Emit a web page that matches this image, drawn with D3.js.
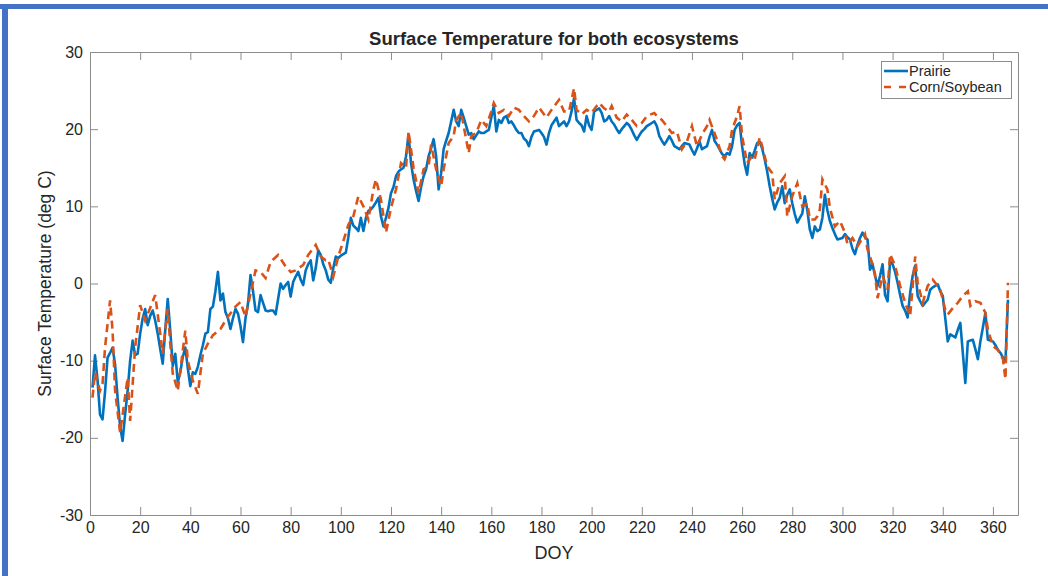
<!DOCTYPE html>
<html>
<head>
<meta charset="utf-8">
<script src="https://cdn.jsdelivr.net/npm/d3@7/dist/d3.min.js"></script>
<style>
  html, body { margin: 0; padding: 0; background: #ffffff; }
  svg { display: block; }
  text { font-family: "Liberation Sans", Arial, Helvetica, sans-serif; fill: #262626; }
</style>
</head>
<body>
<svg id="chart" width="1048" height="576"></svg>
<script>
// Daily surface temperature (deg C), DOY 1..366
const prairieTemp = [
  -13.5, -9.3, -12.5, -17.0, -17.6, -14.0, -9.6, -9.0, -8.3, -10.5,
  -14.8, -18.5, -20.4, -17.0, -13.9, -10.0, -7.4, -9.3, -9.1, -6.5,
  -4.5, -3.3, -5.4, -4.2, -3.5, -4.8, -6.5, -8.5, -10.4, -6.0,
  -2.0, -6.1, -10.7, -9.1, -12.8, -11.5, -9.5, -8.3, -11.0, -13.3,
  -11.5, -11.7, -10.8, -9.3, -8.0, -6.5, -6.3, -3.3, -3.0, -1.0,
  1.5, -2.2, -1.3, -3.7, -4.5, -5.9, -4.5, -3.3, -3.9, -5.5,
  -7.6, -4.5, -2.6, 1.1, -1.0, -3.5, -3.7, -1.5, -2.5, -3.5,
  -3.6, -3.5, -3.5, -4.0, -2.0, 0.0, -0.7, -0.2, 0.2, -1.7,
  0.2, 0.9, 1.5, 0.5, -0.2, 1.7, 2.5, 3.0, 0.4, 2.0,
  4.3, 3.7, 2.5, 1.7, 0.5, 0.1, 2.0, 3.5, 3.3, 3.6,
  3.8, 4.0, 6.0, 8.5, 7.5, 7.2, 6.8, 8.5, 6.8, 8.5,
  9.4, 9.6, 10.0, 10.5, 11.1, 8.7, 7.4, 8.5, 9.8, 11.7,
  12.5, 13.9, 14.5, 14.8, 15.0, 16.5, 19.3, 15.6, 13.5, 12.0,
  10.7, 12.5, 13.9, 14.8, 16.5, 17.5, 18.7, 16.5, 12.2, 14.3,
  17.4, 18.5, 19.5, 21.0, 22.5, 21.0, 20.4, 22.5, 21.5, 20.4,
  19.3, 19.5, 18.7, 19.2, 19.7, 19.5, 19.5, 19.7, 19.9, 21.5,
  23.0, 19.7, 21.2, 20.8, 21.5, 21.7, 20.8, 21.0, 20.5, 19.9,
  19.5, 19.5, 18.8, 18.5, 17.8, 19.0, 19.7, 19.8, 19.9, 19.5,
  19.0, 18.0, 19.5, 20.5, 21.0, 21.5, 20.4, 20.7, 21.0, 20.4,
  21.0, 22.3, 24.0, 21.2, 20.8, 20.5, 19.7, 21.7, 20.5, 19.9,
  22.3, 22.5, 22.7, 22.1, 21.0, 21.2, 21.7, 21.0, 20.6, 20.0,
  19.5, 20.0, 20.4, 20.8, 20.5, 19.9, 19.2, 18.6, 19.2, 19.7,
  20.0, 20.4, 20.6, 20.8, 21.0, 20.4, 19.1, 18.5, 18.0, 18.5,
  19.1, 18.5, 17.8, 17.6, 17.4, 17.8, 18.2, 18.1, 18.0, 17.3,
  16.7, 17.5, 18.4, 17.4, 17.6, 17.8, 19.0, 19.9, 18.5, 18.0,
  17.4, 16.8, 16.5, 16.9, 16.7, 17.8, 19.9, 20.5, 20.8, 17.8,
  15.5, 14.1, 16.9, 16.3, 17.2, 18.2, 18.4, 17.5, 16.1, 14.5,
  12.6, 11.0, 9.6, 10.5, 11.1, 12.6, 10.4, 11.5, 12.2, 10.4,
  9.0, 7.9, 8.5, 9.1, 11.3, 9.5, 7.0, 5.9, 7.4, 6.8,
  7.0, 8.5, 11.5, 9.5, 8.1, 7.2, 6.4, 5.7, 5.8, 5.9,
  6.4, 6.0, 5.7, 4.5, 3.8, 5.0, 5.9, 6.6, 6.0, 5.7,
  1.8, 2.5, 1.0, -0.3, 1.0, 2.5, -1.5, -2.3, 2.9, 2.5,
  1.5, 0.1, -1.5, -2.9, -3.5, -4.4, -1.2, 1.0, 2.3, -1.6,
  -2.3, -2.9, -2.5, -2.1, -0.8, -0.5, -0.3, -0.1, -1.0, -1.6,
  -4.5, -7.5, -6.6, -6.8, -7.0, -6.0, -5.1, -9.0, -12.9, -7.5,
  -7.4, -7.3, -8.5, -9.8, -7.5, -5.7, -3.8, -7.3, -7.4, -7.5,
  -8.0, -8.6, -9.0, -9.6, -10.1, -2.1
];
const prairieDoy = d3.range(1, prairieTemp.length + 1);

// Corn/Soybean record, sampled days
const cornDoy = [
  1, 2, 4, 5, 6, 8, 9, 10, 12, 13, 15, 16, 18, 20, 22, 26, 28, 29, 31, 32,
  33, 35, 38, 39, 41, 43, 45, 47, 49, 52, 55, 58, 60, 62, 64, 66, 68, 70, 72, 75,
  78, 80, 82, 85, 87, 90, 92, 94, 95, 97, 99, 101, 103, 105, 107, 109, 111, 113, 114, 116,
  118, 120, 122, 124, 126, 127, 129, 131, 133, 135, 136, 138, 140, 141, 143, 145, 146, 148, 149, 151,
  152, 154, 156, 158, 160, 161, 163, 165, 167, 169, 171, 173, 175, 177, 179, 182, 184, 187, 189, 191,
  193, 194, 196, 198, 200, 202, 203, 205, 207, 208, 210, 212, 214, 216, 218, 220, 222, 225, 226, 228,
  230, 232, 234, 236, 238, 240, 242, 244, 246, 247, 250, 252, 253, 255, 256, 258, 259, 260, 262, 264,
  265, 267, 268, 270, 272, 273, 275, 277, 278, 280, 282, 284, 286, 287, 289, 290, 291, 292, 294, 295,
  297, 299, 301, 302, 304, 306, 308, 309, 310, 312, 313, 314, 316, 318, 319, 321, 323, 325, 327, 329,
  330, 332, 334, 336, 337, 339, 341, 342, 344, 346, 348, 350, 351, 353, 355, 357, 358, 360, 362, 364,
  365, 366
];
const cornTemp = [
  -14.8, -11.5, -13.9, -13.0, -8.3, -2.2, -6.1, -13.9, -19.3, -17.0, -12.2, -17.8, -8.3, -2.8, -4.8, -1.5, -6.5, -9.1, -3.3, -7.8,
  -11.7, -13.9, -6.1, -10.0, -12.6, -14.3, -9.1, -7.8, -6.7, -5.9, -4.3, -3.0, -2.4, -4.3, -1.3, 1.7, 1.5, 0.7, 2.8, 3.7,
  2.2, 1.5, 1.7, 2.4, 3.7, 5.0, 3.5, 3.0, 3.1, 0.9, 3.5, 5.5, 7.6, 8.7, 11.3, 10.0, 8.3, 12.2, 13.5, 10.9,
  6.6, 9.8, 12.2, 15.6, 15.0, 19.7, 15.0, 11.7, 14.8, 15.2, 18.0, 14.8, 12.6, 14.8, 18.2, 19.1, 21.2, 22.1, 20.4, 16.9,
  19.1, 19.5, 21.2, 20.4, 22.3, 23.4, 22.1, 22.5, 21.7, 22.8, 22.5, 21.7, 21.0, 21.7, 22.8, 21.5, 22.5, 23.8, 22.3, 22.3,
  25.3, 22.5, 21.9, 22.5, 22.1, 23.0, 23.4, 22.7, 22.3, 23.0, 21.5, 21.0, 21.9, 21.2, 20.4, 20.8, 21.7, 22.1, 21.7, 21.2,
  20.4, 19.5, 19.7, 17.4, 18.4, 20.4, 17.8, 19.3, 20.4, 21.2, 18.6, 16.5, 16.1, 17.8, 19.9, 21.7, 23.0, 19.1, 15.6, 16.5,
  16.1, 18.9, 17.8, 15.2, 14.3, 10.9, 13.0, 13.9, 8.7, 11.3, 13.0, 10.0, 10.4, 8.3, 8.3, 8.7, 9.6, 13.5, 12.2, 9.8,
  7.4, 8.1, 6.6, 5.1, 5.9, 4.8, 5.9, 6.4, 4.4, 2.5, 1.2, -1.9, 1.0, -0.8, 3.8, 2.3, -0.3, -2.5, -4.2, 3.5,
  0.1, -2.5, -0.3, 0.5, 0.1, -0.8, -3.4, -4.0, -3.2, -2.5, -1.6, -1.0, -2.9, -2.3, -2.5, -3.8, -6.0, -8.1, -8.6, -9.8,
  -12.4, 0.1
];

const xTicks = d3.range(0, 361, 20);
const yTicks = d3.range(-30, 31, 10);
const seriesNames = ["Prairie", "Corn/Soybean"];
const seriesColors = ["#0072BD", "#D95319"];

const svg = d3.select("#chart");
const W = 1048, H = 576;
const box = { left: 90, right: 1018, top: 52, bottom: 515 };

// Slide frame
svg.append("rect").attr("x", 0).attr("y", 0).attr("width", W).attr("height", H).attr("fill", "#ffffff");
svg.append("rect").attr("x", 0).attr("y", 4).attr("width", W).attr("height", 5).attr("fill", "#4472C4");
svg.append("rect").attr("x", 2).attr("y", 4).attr("width", 6).attr("height", H - 4).attr("fill", "#4472C4");

const x = d3.scaleLinear().domain([0, 370]).range([box.left, box.right]);
const y = d3.scaleLinear().domain([-30, 30]).range([box.bottom, box.top]);

const axisColor = "#8c8c8c";
const tickLen = 8;
const plainNum = d => String(d);

function styleAxis(g) {
  g.selectAll(".domain").attr("stroke", axisColor).attr("stroke-width", 1);
  g.selectAll(".tick line").attr("stroke", axisColor).attr("stroke-width", 1);
  g.selectAll(".tick text").attr("fill", "#262626").style("font-size", "16px")
    .style("font-family", "'Liberation Sans', Arial, sans-serif");
}

svg.append("g").attr("transform", `translate(0,${box.bottom})`)
  .call(d3.axisBottom(x).tickValues(xTicks).tickFormat(plainNum).tickSizeInner(-tickLen).tickSizeOuter(0).tickPadding(7))
  .call(styleAxis);
svg.append("g").attr("transform", `translate(0,${box.top})`)
  .call(d3.axisTop(x).tickValues(xTicks).tickFormat("").tickSizeInner(-tickLen).tickSizeOuter(0))
  .call(styleAxis);
svg.append("g").attr("transform", `translate(${box.left},0)`)
  .call(d3.axisLeft(y).tickValues(yTicks).tickFormat(plainNum).tickSizeInner(-tickLen).tickSizeOuter(0).tickPadding(7))
  .call(styleAxis);
svg.append("g").attr("transform", `translate(${box.right},0)`)
  .call(d3.axisRight(y).tickValues(yTicks).tickFormat("").tickSizeInner(-tickLen).tickSizeOuter(0))
  .call(styleAxis);

// Series lines
svg.append("clipPath").attr("id", "plotClip").append("rect")
  .attr("x", box.left).attr("y", box.top).attr("width", box.right - box.left).attr("height", box.bottom - box.top);

const line = d3.line().x(d => x(d[0])).y(d => y(d[1]));

svg.append("path")
  .datum(prairieDoy.map((d, i) => [d, prairieTemp[i]]))
  .attr("clip-path", "url(#plotClip)")
  .attr("fill", "none").attr("stroke", seriesColors[0]).attr("stroke-width", 2.6)
  .attr("stroke-linejoin", "round")
  .attr("d", line);

svg.append("path")
  .datum(cornDoy.map((d, i) => [d, cornTemp[i]]))
  .attr("clip-path", "url(#plotClip)")
  .attr("fill", "none").attr("stroke", seriesColors[1]).attr("stroke-width", 2.6)
  .attr("stroke-dasharray", "8,5")
  .attr("d", line);

// Title and axis labels
svg.append("text").attr("x", (box.left + box.right) / 2).attr("y", 45)
  .attr("text-anchor", "middle").style("font-size", "18.5px").style("font-weight", "bold")
  .attr("fill", "#000").text("Surface Temperature for both ecosystems");

svg.append("text").attr("x", (box.left + box.right) / 2).attr("y", 559)
  .attr("text-anchor", "middle").style("font-size", "18px")
  .text("DOY");

svg.append("text")
  .attr("transform", `translate(51,${(box.top + box.bottom) / 2}) rotate(-90)`)
  .attr("text-anchor", "middle").style("font-size", "17.5px")
  .text("Surface Temperature (deg C)");

// Legend
const lg = svg.append("g");
lg.append("rect").attr("x", 881.5).attr("y", 61.5).attr("width", 130).attr("height", 37)
  .attr("fill", "#ffffff").attr("stroke", axisColor).attr("stroke-width", 1);
seriesNames.forEach((name, i) => {
  const ly = 71 + i * 16;
  lg.append("line").attr("x1", 884).attr("x2", 908).attr("y1", ly).attr("y2", ly)
    .attr("stroke", seriesColors[i]).attr("stroke-width", 2.6)
    .attr("stroke-dasharray", i === 1 ? "7,8" : null);
  lg.append("text").attr("x", 909).attr("y", ly + 5).style("font-size", "14.5px")
    .attr("fill", "#000").text(name);
});
</script>
</body>
</html>
